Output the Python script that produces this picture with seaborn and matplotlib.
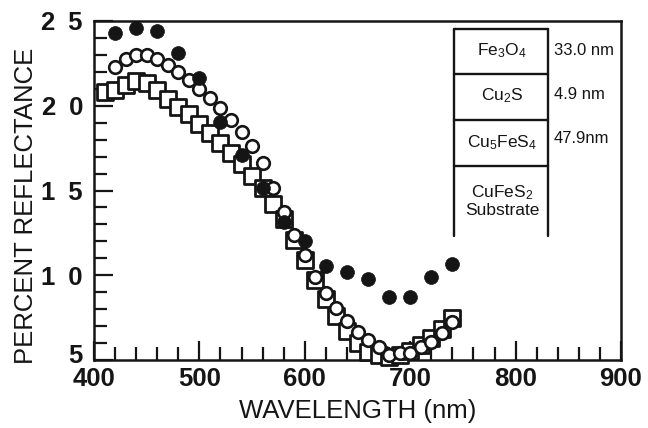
import matplotlib
matplotlib.use("Agg")
import matplotlib.pyplot as plt
import matplotlib.transforms as mtransforms
import seaborn as sns
import pandas as pd
from matplotlib.ticker import MultipleLocator

# ---- data ----
filled_wl = [420, 440, 460, 480, 500, 520, 540, 560, 580, 600, 620, 640, 660, 680, 700, 720, 740]
filled_r = [24.27, 24.6, 24.41, 23.09, 21.65, 19.02, 17.09, 15.13, 13.16, 12.0, 10.56, 10.21, 9.76, 8.70, 8.73, 9.88, 10.66]

open_wl = [420, 430, 440, 450, 460, 470, 480, 490, 500, 510, 520, 530, 540, 550, 560, 570, 580,
           590, 600, 610, 620, 630, 640, 650, 660, 670, 680, 690, 700, 710, 720, 730, 740]
open_r = [22.3, 22.77, 23.02, 22.98, 22.75, 22.43, 21.98, 21.5, 20.98, 20.45, 19.85, 19.16, 18.45, 17.6, 16.6, 15.13, 13.75,
          12.37, 11.19, 9.91, 8.94, 8.05, 7.32, 6.67, 6.18, 5.78, 5.30, 5.39, 5.43, 5.78, 6.08, 6.57, 7.26]

square_wl = [410, 420, 430, 440, 450, 460, 470, 480, 490, 500, 510, 520, 530, 540, 550, 560, 570, 580,
             590, 600, 610, 620, 630, 640, 650, 660, 670, 680, 690, 700, 710, 720, 730, 740]
square_r = [20.8, 20.9, 21.2, 21.45, 21.35, 20.9, 20.4, 19.95, 19.5, 18.95, 18.4, 17.8, 17.2, 16.55, 15.85, 15.15, 14.2, 13.3,
            12.1, 10.9, 9.7, 8.6, 7.6, 6.7, 6.0, 5.5, 5.3, 5.2, 5.3, 5.55, 5.9, 6.3, 6.8, 7.5]

x_ticks = [400, 500, 600, 700, 800, 900]
y_ticks = [5, 10, 15, 20, 25]

layers = [r"Fe$_3$O$_4$", r"Cu$_2$S", r"Cu$_5$FeS$_4$", "CuFeS$_2$\nSubstrate"]
thickness = ["33.0 nm", "4.9 nm", "47.9nm"]

# ---- style ----
sns.set_style("ticks")
plt.rcParams["font.family"] = ["Liberation Sans", "DejaVu Sans"]
plt.rcParams["mathtext.default"] = "regular"
INK = "#151515"

fig = plt.figure(figsize=(6.48, 4.28), dpi=100)
ax = fig.add_axes([94 / 648, 1 - 360 / 428, 527 / 648, 339 / 428])

df_sq = pd.DataFrame({"wl": square_wl, "r": square_r})
df_op = pd.DataFrame({"wl": open_wl, "r": open_r})
df_fi = pd.DataFrame({"wl": filled_wl, "r": filled_r})

sns.scatterplot(data=df_sq, x="wl", y="r", marker="s", s=120, color="white",
                edgecolor=INK, linewidth=2.0, ax=ax, zorder=3, clip_on=False)
sns.scatterplot(data=df_op, x="wl", y="r", marker="o", s=82, color="white",
                edgecolor=INK, linewidth=1.9, ax=ax, zorder=4, clip_on=False)
sns.scatterplot(data=df_fi, x="wl", y="r", marker="o", s=100, color=INK,
                edgecolor=INK, linewidth=0.5, ax=ax, zorder=5, clip_on=False)

ax.set_xlim(400, 900)
ax.set_ylim(5, 25)
ax.set_xticks(x_ticks)
ax.set_yticks(y_ticks)
# y tick labels in the reference are letter-spaced
ax.set_yticklabels(["\u2002".join(str(v)) for v in y_ticks])
ax.xaxis.set_minor_locator(MultipleLocator(20))
ax.yaxis.set_minor_locator(MultipleLocator(1))
ax.tick_params(axis="both", which="both", direction="in", top=False, right=False,
               color=INK, width=1.6)
ax.tick_params(axis="both", which="major", length=14, labelsize=18.5, labelcolor=INK)
ax.tick_params(axis="x", which="major", pad=5)
ax.tick_params(axis="y", which="major", pad=8)
ax.tick_params(axis="both", which="minor", length=9.5)
for lab in ax.get_xticklabels() + ax.get_yticklabels():
    lab.set_fontweight("bold")
for sp in ax.spines.values():
    sp.set_linewidth(1.8)
    sp.set_color(INK)

# nudge the bottom "5" label up a little, as in the reference
lab5 = ax.get_yticklabels()[0]
lab5.set_transform(lab5.get_transform() +
                   mtransforms.ScaledTranslation(0, 5 / 72, fig.dpi_scale_trans))

ax.set_xlabel("WAVELENGTH (nm)", fontsize=18.5, color=INK)
ax.set_ylabel("PERCENT REFLECTANCE", fontsize=18.5, color=INK)
ax.xaxis.set_label_coords(0.5, -0.115)
ax.yaxis.set_label_coords(-0.106, 0.455)

# ---- layer-structure box ----
bl, br = 0.683, 0.861
rows = [0.976, 0.844, 0.708, 0.572]
for yy in rows:
    ax.plot([bl, br], [yy, yy], transform=ax.transAxes, color=INK, lw=1.7, zorder=6)
for xx in (bl, br):
    ax.plot([xx, xx], [0.366, 0.976], transform=ax.transAxes, color=INK, lw=1.7, zorder=6)
name_y = [0.914, 0.779, 0.640, 0.470]
for lab, yy in zip(layers, name_y):
    ax.text(0.774, yy, lab, transform=ax.transAxes, ha="center", va="center",
            fontsize=12.5, color=INK, linespacing=1.05)
thick_y = [0.914, 0.782, 0.652]
for lab, yy in zip(thickness, thick_y):
    ax.text(0.873, yy, lab, transform=ax.transAxes, ha="left", va="center",
            fontsize=12, color=INK)

fig.savefig("out.png", dpi=100)
